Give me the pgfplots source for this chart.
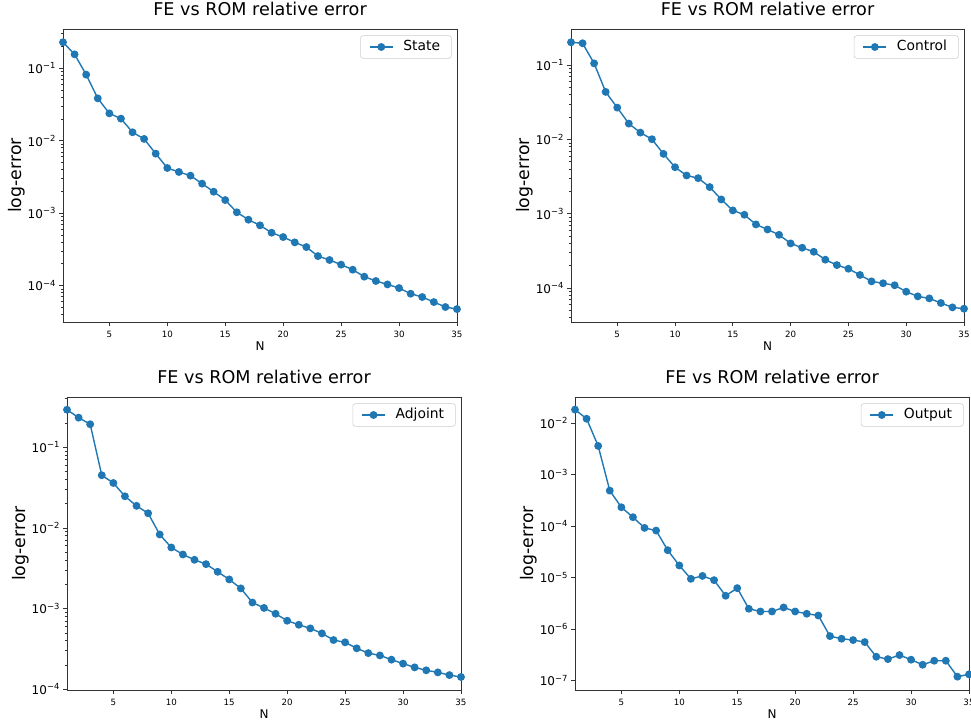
\documentclass[border=0pt]{standalone}
\usepackage{pgfplots}
\pgfplotsset{compat=1.18}
\usepackage{fontspec}
\setmainfont{DejaVu Sans}

\definecolor{mplblue}{HTML}{1F77B4}

% decade labels in the text font, matplotlib style
\pgfplotsset{
  log number format basis/.code 2 args={\pgfmathtruncatemacro{\ex}{round(-(#2))}10\raisebox{3.5pt}{\fontsize{6.3}{7}\selectfont −\ex}},
}

\pgfplotsset{
  romerr/.style={
    scale only axis, width=295.5pt, height=219.75pt,
    anchor=south west,
    xmin=1, xmax=35, xtick={5,10,...,35},
    tick align=outside, tick pos=left,
    major tick length=3pt, minor tick length=1.8pt,
    axis line style={black!80, line width=0.7pt},
    tick style={black!80, line width=0.6pt},
    title={FE vs ROM relative error},
    title style={at={(0.5,1)}, anchor=base, yshift=4pt, inner sep=0pt,
      font=\fontsize{13.2}{15}\selectfont},
    xlabel={N}, ylabel={log-error},
    xlabel style={at={(axis description cs:0.5,-0.0956)}, anchor=base, inner sep=0pt,
      font=\fontsize{9}{11}\selectfont},
    ylabel style={at={(axis description cs:-0.106,0.5)}, anchor=base, inner sep=0pt,
      font=\fontsize{13}{15}\selectfont},
    xticklabel style={font=\fontsize{6.5}{8}\selectfont, /pgf/number format/assume math mode=true},
    yticklabel style={font=\fontsize{9}{11}\selectfont, inner xsep=2.5pt},
    legend style={at={(1,1)}, anchor=north east, xshift=-4pt, yshift=-4.8pt,
      draw=black!20, rounded corners=2pt, font=\fontsize{10.4}{12}\selectfont,
      inner xsep=6.5pt, inner ysep=1.4pt,
      nodes={inner sep=2pt, text height=8pt, text depth=2.2pt},
      /tikz/every odd column/.append style={column sep=5.5pt}},
    legend cell align=left,
  },
  romline/.style={mplblue, line width=1.05pt,
    mark=*, mark size=2.4pt, mark options={solid, fill=mplblue, draw=mplblue}},
}

\begin{document}
\begin{tikzpicture}
\useasboundingbox (0,0) rectangle (728.25pt,541.5pt);

% State
\begin{semilogyaxis}[romerr, log basis y=10, at={(47.25pt,300pt)}, ymin=3.15e-5, ymax=0.349]
\addplot[romline] table {
x y
1 0.229
2 0.156
3 0.0818
4 0.0385
5 0.0239
6 0.0202
7 0.0131
8 0.0106
9 0.00664
10 0.00421
11 0.00371
12 0.00330
13 0.00256
14 0.00198
15 0.00152
16 0.00103
17 0.000814
18 0.000680
19 0.000538
20 0.000469
21 0.000396
22 0.000341
23 0.000256
24 0.000226
25 0.000195
26 0.000166
27 0.000133
28 0.000116
29 0.000104
30 0.0000927
31 0.0000774
32 0.0000697
33 0.0000594
34 0.0000507
35 0.0000475
};
\legend{State}
\end{semilogyaxis}

% Control
\begin{semilogyaxis}[romerr, log basis y=10, at={(428.25pt,300pt)}, width=294.75pt, ymin=3.49e-5, ymax=0.308]
\addplot[romline] table {
x y
1 0.204
2 0.198
3 0.106
4 0.0438
5 0.0269
6 0.0164
7 0.0124
8 0.0101
9 0.00641
10 0.00424
11 0.00328
12 0.00302
13 0.00229
14 0.00156
15 0.00111
16 0.000970
17 0.000719
18 0.000615
19 0.000521
20 0.000399
21 0.000349
22 0.000308
23 0.000241
24 0.000204
25 0.000182
26 0.000150
27 0.000123
28 0.000116
29 0.000109
30 0.0000893
31 0.0000773
32 0.0000726
33 0.0000629
34 0.0000549
35 0.0000527
};
\legend{Control}
\end{semilogyaxis}

% Adjoint
\begin{semilogyaxis}[romerr, log basis y=10, at={(50.25pt,24pt)}, ymin=9.8e-5, ymax=0.42]
\addplot[romline] table {
x y
1 0.292
2 0.233
3 0.193
4 0.0450
5 0.0361
6 0.0247
7 0.0188
8 0.0152
9 0.00830
10 0.00573
11 0.00469
12 0.00403
13 0.00356
14 0.00286
15 0.00230
16 0.00178
17 0.00119
18 0.00102
19 0.000864
20 0.000708
21 0.000631
22 0.000569
23 0.000493
24 0.000408
25 0.000382
26 0.000322
27 0.000281
28 0.000263
29 0.000233
30 0.000208
31 0.000187
32 0.000172
33 0.000162
34 0.000150
35 0.000142
};
\legend{Adjoint}
\end{semilogyaxis}

% Output
\begin{semilogyaxis}[romerr, log basis y=10, at={(431.25pt,24pt)}, ymin=6.5e-8, ymax=0.032,
  ytick={1e-7,1e-6,1e-5,1e-4,1e-3,1e-2}]
\addplot[romline] table {
x y
1 0.0182
2 0.0121
3 0.00358
4 0.000486
5 0.000231
6 0.000148
7 0.0000917
8 0.0000814
9 0.0000338
10 0.0000171
11 0.00000940
12 0.0000107
13 0.00000885
14 0.00000440
15 0.00000620
16 0.00000246
17 0.00000218
18 0.00000218
19 0.00000261
20 0.00000218
21 0.00000197
22 0.00000182
23 7.24e-7
24 6.44e-7
25 6.07e-7
26 5.55e-7
27 2.88e-7
28 2.59e-7
29 3.10e-7
30 2.52e-7
31 2.01e-7
32 2.41e-7
33 2.41e-7
34 1.18e-7
35 1.31e-7
};
\legend{Output}
\end{semilogyaxis}
\end{tikzpicture}
\end{document}
